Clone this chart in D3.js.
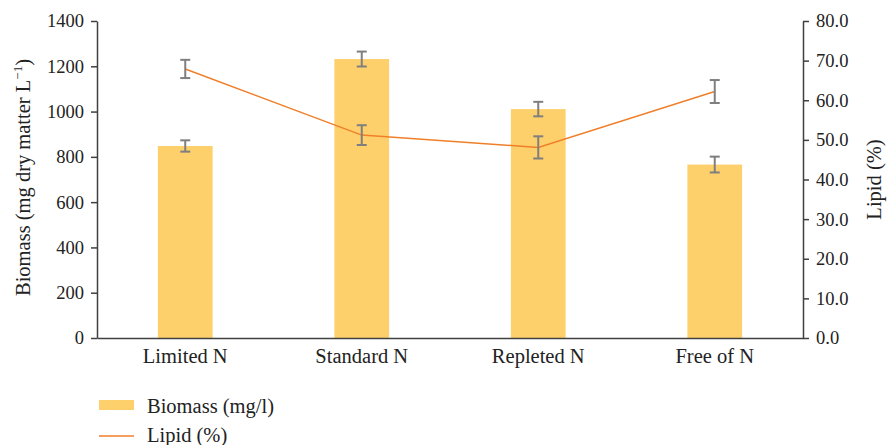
<!DOCTYPE html>
<html lang="en">
<head>
    <meta charset="UTF-8">
    <title>Biomass and Lipid</title>
    <script src="https://cdnjs.cloudflare.com/ajax/libs/d3/7.8.5/d3.min.js"></script>
    <style>
        body { margin: 0; background: #fff; }
        svg { display: block; font-family: "Liberation Serif", "DejaVu Serif", serif; }
        .axis path, .axis line { stroke: #404040; stroke-width: 1.5; }
        .axis text { fill: #222; font-size: 18.5px; font-family: "Liberation Serif", serif; }
        .axis.cat text { font-size: 20.5px; }
        .lbl { fill: #222; font-size: 20.5px; }
    </style>
</head>
<body>
    <svg id="chart" width="888" height="445"></svg>

    <script>
        // Data
        const categories = ["Limited N", "Standard N", "Repleted N", "Free of N"];
        const biomass = [848, 1232, 1011, 766];
        const biomassErr = [25, 33, 32, 35];
        const lipid = [67.9, 51.2, 48.1, 62.2];
        const lipidErr = [2.3, 2.5, 2.8, 2.9];
        const leftTicks = [0, 200, 400, 600, 800, 1000, 1200, 1400];
        const rightTicks = [0, 10, 20, 30, 40, 50, 60, 70, 80];

        const svg = d3.select("#chart");
        const margin = {top: 21, right: 85, bottom: 107, left: 97};
        const width = 888, height = 445;
        const innerW = width - margin.left - margin.right;
        const innerH = height - margin.top - margin.bottom;

        const g = svg.append("g").attr("transform", `translate(${margin.left},${margin.top})`);

        const x = d3.scaleBand().domain(categories).range([0, innerW]).paddingInner(0.69).paddingOuter(0.345);
        const yL = d3.scaleLinear().domain([0, 1400]).range([innerH, 0]);
        const yR = d3.scaleLinear().domain([0, 80]).range([innerH, 0]);
        const xc = d => x(d) + x.bandwidth() / 2;

        // bars
        g.selectAll(".bar")
            .data(categories)
            .enter().append("rect")
            .attr("x", d => x(d))
            .attr("y", (d, i) => yL(biomass[i]))
            .attr("width", x.bandwidth())
            .attr("height", (d, i) => innerH - yL(biomass[i]))
            .attr("fill", "#fdd06b");

        // lipid line
        const line = d3.line().x((d, i) => xc(categories[i])).y(d => yR(d));
        g.append("path")
            .datum(lipid)
            .attr("d", line)
            .attr("fill", "none")
            .attr("stroke", "#f07f2a")
            .attr("stroke-width", 1.5);

        // error bars
        function errorBars(values, errs, scale) {
            const eb = g.append("g").attr("stroke", "#7f7f7f").attr("stroke-width", 2);
            categories.forEach((c, i) => {
                const cx = xc(c);
                const top = scale(values[i] + errs[i]);
                const bot = scale(values[i] - errs[i]);
                eb.append("line").attr("x1", cx).attr("x2", cx).attr("y1", top).attr("y2", bot);
                eb.append("line").attr("x1", cx - 5).attr("x2", cx + 5).attr("y1", top).attr("y2", top);
                eb.append("line").attr("x1", cx - 5).attr("x2", cx + 5).attr("y1", bot).attr("y2", bot);
            });
        }
        errorBars(biomass, biomassErr, yL);
        errorBars(lipid, lipidErr, yR);

        // axes
        g.append("g").attr("class", "axis")
            .call(d3.axisLeft(yL).tickValues(leftTicks).tickFormat(d3.format("d")).tickSize(6).tickSizeOuter(0).tickPadding(7));
        g.append("g").attr("class", "axis")
            .attr("transform", `translate(${innerW},0)`)
            .call(d3.axisRight(yR).tickValues(rightTicks).tickFormat(d3.format(".1f")).tickSize(6).tickSizeOuter(0).tickPadding(7));
        g.append("g").attr("class", "axis cat")
            .attr("transform", `translate(0,${innerH})`)
            .call(d3.axisBottom(x).tickSize(0).tickPadding(10));
        g.selectAll(".axis").attr("font-family", null).attr("font-size", null);

        // axis titles
        const leftTitle = svg.append("text")
            .attr("class", "lbl")
            .attr("transform", `translate(30,${margin.top + innerH / 2 - 2}) rotate(-90)`)
            .attr("text-anchor", "middle");
        leftTitle.append("tspan").text("Biomass (mg dry matter L");
        leftTitle.append("tspan").attr("dy", -8).attr("font-size", "13px").text("−1");
        leftTitle.append("tspan").attr("dy", 8).text(")");

        svg.append("text")
            .attr("class", "lbl")
            .attr("transform", `translate(881,${margin.top + innerH / 2}) rotate(-90)`)
            .attr("text-anchor", "middle")
            .text("Lipid (%)");

        // legend
        const legend = svg.append("g").attr("transform", "translate(99,0)");
        legend.append("rect").attr("x", 0).attr("y", 400).attr("width", 35).attr("height", 10).attr("fill", "#fdd06b");
        legend.append("text").attr("class", "lbl").attr("x", 48).attr("y", 413).text("Biomass (mg/l)");
        legend.append("line").attr("x1", 0).attr("x2", 35).attr("y1", 436).attr("y2", 436)
            .attr("stroke", "#f07f2a").attr("stroke-width", 1.5);
        legend.append("text").attr("class", "lbl").attr("x", 48).attr("y", 442).text("Lipid (%)");
    </script>
</body>
</html>
